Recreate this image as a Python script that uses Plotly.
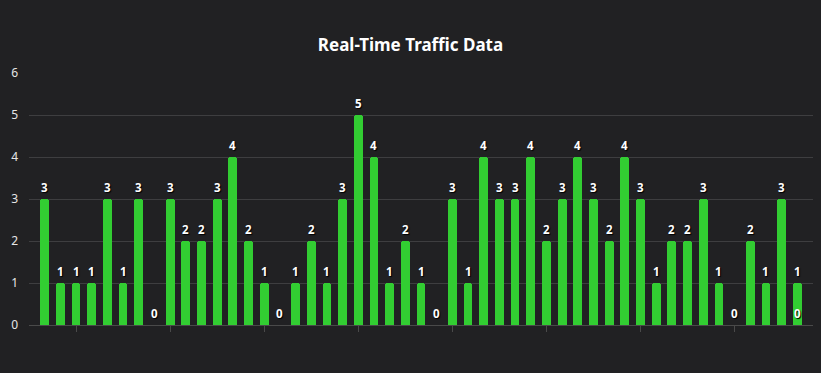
import plotly.graph_objects as go

title = "Real-Time Traffic Data"
values = [3, 1, 1, 1, 3, 1, 3, 0, 3, 2, 2, 3, 4, 2, 1, 0,
          1, 2, 1, 3, 5, 4, 1, 2, 1, 0, 3, 1, 4, 3, 3, 4, 2,
          3, 4, 3, 2, 4, 3, 1, 2, 2, 3, 1, 0, 2, 1, 3, 1]
positions = list(range(1, len(values) + 1))
# a trailing zero-valued point drawn on top of the last bar
extra_pos = [49]
extra_vals = [0]
y_ticks = [0, 1, 2, 3, 4, 5, 6]
x_ticks = [3, 9, 15, 21, 27, 33, 39, 45]

BG = "#212123"
GREEN = "#32cd32"

fig = go.Figure()
fig.add_trace(go.Bar(
    x=positions, y=values, width=0.56,
    marker=dict(color=GREEN, cornerradius=3, line=dict(width=0)),
    hoverinfo="x+y", showlegend=False,
))

annotations = []
for xp, v in list(zip(positions, values)) + list(zip(extra_pos, extra_vals)):
    annotations.append(dict(
        x=xp, y=v, xref="x", yref="y", text=str(v), showarrow=False,
        yanchor="middle", yshift=12,
        font=dict(family="Noto Sans", size=11.5, color="#ffffff", weight="bold",
                  shadow="1px 1px 1px #000000"),
    ))

fig.update_layout(
    width=821, height=373,
    paper_bgcolor=BG, plot_bgcolor=BG,
    margin=dict(l=29, r=8, t=73, b=48),
    title=dict(text="<b>" + title + "</b>", x=0.5, xanchor="center", y=0.88, yanchor="middle",
               font=dict(family="Noto Sans", size=17, color="#ffffff")),
    bargap=0,
    xaxis=dict(range=[0, 50], tickmode="array", tickvals=x_ticks, ticktext=[""] * len(x_ticks),
               ticks="outside", ticklen=6, tickcolor="#4a4a4a", showgrid=False,
               showline=True, linecolor="#4a4a4a", zeroline=False, fixedrange=True),
    yaxis=dict(range=[0, 6], tickmode="array", tickvals=y_ticks,
               gridcolor="#3e3e40", gridwidth=1, zeroline=False, showline=False,
               tickfont=dict(family="Noto Sans", size=12, color="#e6e6e6"),
               ticklabelstandoff=10, fixedrange=True),
    annotations=annotations,
)

fig.write_html("out.html")
